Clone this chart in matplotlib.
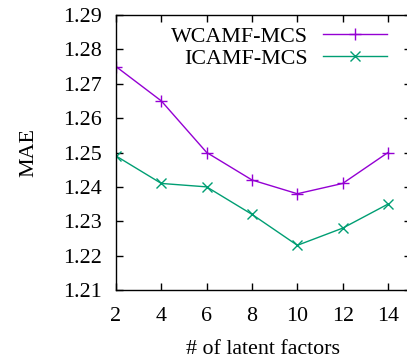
import matplotlib
matplotlib.use("Agg")
import matplotlib.pyplot as plt

factors = [2, 4, 6, 8, 10, 12, 14]
wcamf = [1.275, 1.265, 1.250, 1.242, 1.238, 1.241, 1.250]
icamf = [1.249, 1.241, 1.240, 1.232, 1.223, 1.228, 1.235]
yticks = [1.21, 1.22, 1.23, 1.24, 1.25, 1.26, 1.27, 1.28, 1.29]
labels = ["WCAMF-MCS", "ICAMF-MCS"]

plt.rcParams['font.family'] = ['Liberation Serif', 'DejaVu Serif']
plt.rcParams['font.size'] = 15.8

fig = plt.figure(figsize=(4.07, 3.61), dpi=100)
W, H = 407, 361
axw = (410.7 - 116) / W
ax = fig.add_axes([116 / W, 1 - 290 / H, axw, (290 - 15) / H])

c1 = '#9400d3'
c2 = '#009e73'
ax.plot(factors, wcamf, color=c1, marker='+', markersize=8, lw=1, mew=1, label=labels[0])
ax.plot(factors, icamf, color=c2, marker='x', markersize=7, lw=1, mew=1, label=labels[1])

ax.set_xlim(2, 15)
ax.set_ylim(1.21, 1.29)
ax.set_xticks(factors)
ax.set_yticks(yticks)
ax.set_yticklabels([f"{v:.2f}" for v in yticks])
ax.tick_params(direction='in', length=5, width=1, top=True, right=True)
ax.tick_params(axis='x', pad=12)
ax.tick_params(axis='y', pad=10)
for s in ax.spines.values():
    s.set_linewidth(1)

ax.set_xlabel("# of latent factors", labelpad=10)
ax.set_ylabel("MAE", labelpad=18)

leg = ax.legend(loc='upper right', bbox_to_anchor=((402 - 116) / (410.7 - 116), 1.015),
                frameon=False, markerfirst=False, handlelength=2.9, handletextpad=0.7,
                labelspacing=0.1, borderaxespad=0.3)
for t in leg.get_texts():
    t.set_ha('right')

fig.savefig("out.png", dpi=100)
